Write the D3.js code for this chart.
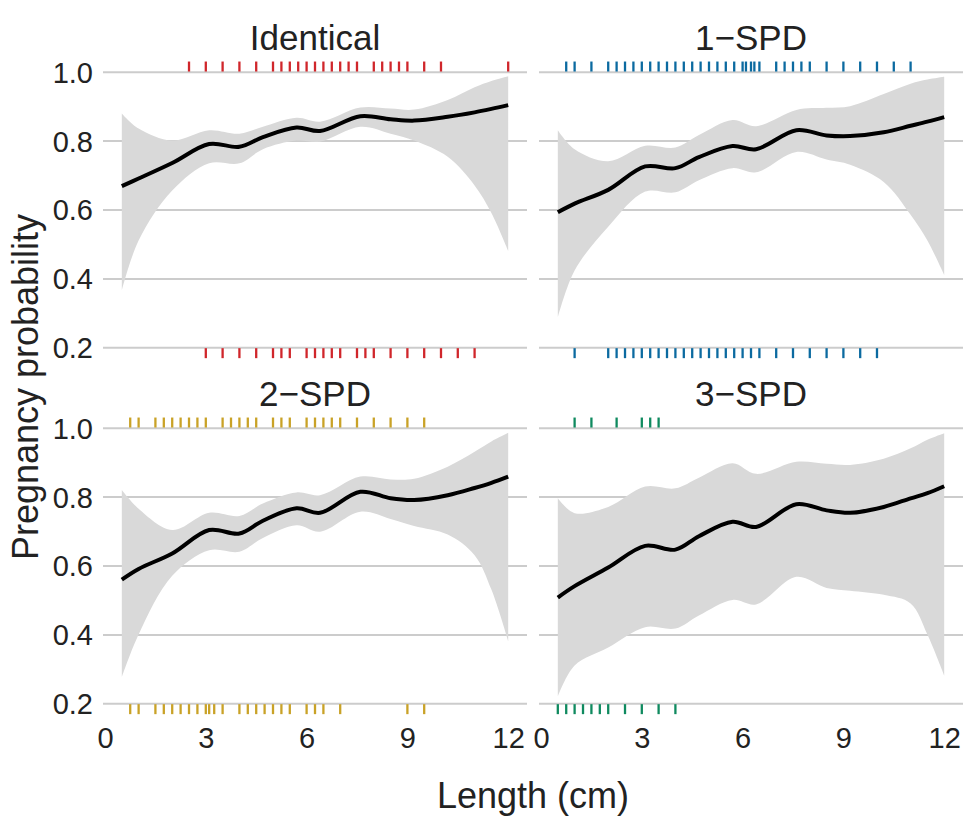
<!DOCTYPE html>
<html>
<head>
<meta charset="utf-8">
<script src="https://cdn.jsdelivr.net/npm/d3@7"></script>
<style>
  body { margin: 0; background: #fff; }
  svg text { font-family: "Liberation Sans", Arial, sans-serif; fill: #222; }
</style>
</head>
<body>
<script>
// panels
let groups = ["Identical", "1\u2212SPD", "2\u2212SPD", "3\u2212SPD"];
let colors = ["#d0262b", "#0b6aa0", "#c9a227", "#0f8a5f"];

// smooth fit, shared x grid (cm)
let xGrid = [0.5, 1, 2, 3.1, 4, 4.7, 5.7, 6.4, 7.6, 8.5, 9.2, 10.2, 11, 11.5, 12];

let fitIdentical = [0.668, 0.69, 0.735, 0.79, 0.782, 0.81, 0.838, 0.828, 0.871, 0.862, 0.858, 0.869, 0.882, 0.892, 0.903];
let hiIdentical  = [0.879, 0.835, 0.80, 0.83, 0.82, 0.84, 0.866, 0.855, 0.896, 0.893, 0.89, 0.918, 0.955, 0.973, 0.987];
let loIdentical  = [0.365, 0.51, 0.655, 0.734, 0.734, 0.775, 0.80, 0.797, 0.84, 0.82, 0.80, 0.753, 0.67, 0.59, 0.48];

let fit1 = [0.592, 0.617, 0.657, 0.725, 0.72, 0.752, 0.784, 0.775, 0.83, 0.815, 0.813, 0.824, 0.843, 0.855, 0.868];
let hi1  = [0.83, 0.775, 0.74, 0.785, 0.78, 0.816, 0.86, 0.842, 0.889, 0.895, 0.90, 0.935, 0.965, 0.977, 0.985];
let lo1  = [0.287, 0.423, 0.55, 0.652, 0.65, 0.685, 0.72, 0.708, 0.767, 0.745, 0.73, 0.68, 0.585, 0.51, 0.41];

let fit2 = [0.559, 0.59, 0.635, 0.703, 0.693, 0.73, 0.766, 0.753, 0.814, 0.795, 0.79, 0.804, 0.825, 0.84, 0.858];
let hi2  = [0.819, 0.765, 0.703, 0.753, 0.744, 0.78, 0.812, 0.804, 0.858, 0.85, 0.852, 0.887, 0.93, 0.96, 0.985];
let lo2  = [0.276, 0.40, 0.57, 0.644, 0.64, 0.68, 0.717, 0.698, 0.756, 0.735, 0.715, 0.69, 0.63, 0.53, 0.38];

let fit3 = [0.507, 0.54, 0.594, 0.657, 0.646, 0.685, 0.727, 0.712, 0.778, 0.76, 0.753, 0.77, 0.795, 0.81, 0.83];
let hi3  = [0.795, 0.752, 0.77, 0.829, 0.824, 0.855, 0.897, 0.866, 0.901, 0.895, 0.892, 0.91, 0.94, 0.965, 0.984];
let lo3  = [0.22, 0.31, 0.362, 0.421, 0.417, 0.455, 0.50, 0.487, 0.567, 0.535, 0.527, 0.515, 0.49, 0.40, 0.281];

// observed lengths: pregnant (top rug) / not pregnant (bottom rug)
let rugTopIdentical = [2.5, 3, 3.5, 4, 4.5, 5, 5.25, 5.5, 5.75, 6, 6.25, 6.5, 6.75, 7, 7.25, 7.5, 8, 8.25, 8.5, 8.75, 9, 9.5, 10, 12];
let rugBotIdentical = [3, 3.5, 4, 4.5, 5, 5.25, 5.5, 6, 6.25, 6.5, 6.75, 7, 7.5, 7.75, 8, 8.5, 9, 9.5, 10, 10.5, 11];
let rugTop1 = [0.75, 1, 1.5, 2, 2.25, 2.5, 2.75, 3, 3.25, 3.5, 3.75, 4, 4.25, 4.5, 4.75, 5, 5.25, 5.5, 5.75, 6, 6.1, 6.25, 6.35, 6.5, 7, 7.25, 7.5, 7.75, 8, 8.5, 9, 9.5, 10, 10.5, 11];
let rugBot1 = [1, 2, 2.25, 2.5, 2.75, 3, 3.25, 3.5, 3.75, 4, 4.25, 4.5, 4.75, 5, 5.25, 5.5, 5.75, 6, 6.25, 6.5, 7, 7.5, 8, 8.5, 9, 9.5, 10];
let rugTop2 = [0.75, 1, 1.5, 1.75, 2, 2.25, 2.5, 2.75, 3, 3.5, 3.75, 4, 4.25, 4.5, 5, 5.25, 5.5, 6, 6.25, 6.5, 6.75, 7, 7.5, 8, 8.5, 9, 9.5];
let rugBot2 = [0.75, 1, 1.5, 1.75, 2, 2.25, 2.5, 2.75, 3, 3.1, 3.25, 3.5, 4, 4.25, 4.5, 4.75, 5, 5.25, 5.5, 6, 6.25, 6.5, 7, 9, 9.5];
let rugTop3 = [1, 1.5, 2.25, 3, 3.25, 3.5];
let rugBot3 = [0.5, 0.75, 1, 1.25, 1.5, 1.75, 2, 2.5, 3, 3.5, 4];

let fits = [fitIdentical, fit1, fit2, fit3];
let his = [hiIdentical, hi1, hi2, hi3];
let los = [loIdentical, lo1, lo2, lo3];
let rugTops = [rugTopIdentical, rugTop1, rugTop2, rugTop3];
let rugBots = [rugBotIdentical, rugBot1, rugBot2, rugBot3];

let yTicks = [0.2, 0.4, 0.6, 0.8, 1.0];
let xTicks = [0, 3, 6, 9, 12];
let rugTopY = 1.015;
let rugBotY = 0.183;

let w = 975, h = 825;
let panelW = 424;
let panelLeft = [103, 539];
let panelTop = [71.7, 427.7];

let x = d3.scaleLinear().domain([-0.06, 12.56]).range([0, panelW]);
let y = d3.scaleLinear().domain([0.2, 1.0]).range([275.6, 0]);

let svg = d3.select("body").append("svg")
  .attr("width", w)
  .attr("height", h);

let area = d3.area()
  .x(d => x(d[0]))
  .y0(d => y(d[1]))
  .y1(d => y(d[2]))
  .curve(d3.curveCatmullRom.alpha(0.5));
let line = d3.line()
  .x(d => x(d[0]))
  .y(d => y(d[1]))
  .curve(d3.curveCatmullRom.alpha(0.5));

groups.forEach(function(name, i) {
  let col = i % 2, row = Math.floor(i / 2);
  let g = svg.append("g")
    .attr("transform", "translate(" + panelLeft[col] + "," + panelTop[row] + ")");

  // horizontal grid
  let grid = g.append("g")
    .call(d3.axisLeft(y).tickValues(yTicks).tickSize(-panelW).tickFormat(""));
  grid.select(".domain").remove();
  grid.selectAll("line").attr("stroke", "#cccccc").attr("stroke-width", 2);

  if (col == 0) {
    let ya = g.append("g")
      .call(d3.axisLeft(y).tickValues(yTicks).tickSize(0).tickPadding(10).tickFormat(d3.format(".1f")));
    ya.select(".domain").remove();
    ya.selectAll("text").style("font-size", "29px").attr("fill", "#222").attr("dy", "0.36em");
  }
  if (row == 1) {
    let xa = g.append("g")
      .attr("transform", "translate(0," + y(0.2) + ")")
      .call(d3.axisBottom(x).tickValues(xTicks).tickSize(0).tickPadding(24.5));
    xa.select(".domain").remove();
    xa.selectAll("text").style("font-size", "29px").attr("fill", "#222");
  }

  let pts = xGrid.map((v, k) => [v, los[i][k], his[i][k]]);
  g.append("path")
    .attr("d", area(pts))
    .attr("fill", "#d9d9d9");
  g.append("path")
    .attr("d", line(xGrid.map((v, k) => [v, fits[i][k]])))
    .attr("fill", "none")
    .attr("stroke", "#000")
    .attr("stroke-width", 4);

  g.selectAll(".rugtop")
    .data(rugTops[i])
    .enter().append("line")
    .attr("x1", d => x(d)).attr("x2", d => x(d))
    .attr("y1", y(rugTopY) - 5).attr("y2", y(rugTopY) + 5)
    .attr("stroke", colors[i]).attr("stroke-width", 2.3);
  g.selectAll(".rugbot")
    .data(rugBots[i])
    .enter().append("line")
    .attr("x1", d => x(d)).attr("x2", d => x(d))
    .attr("y1", y(rugBotY) - 5).attr("y2", y(rugBotY) + 5)
    .attr("stroke", colors[i]).attr("stroke-width", 2.3);

  g.append("text")
    .attr("x", panelW / 2)
    .attr("y", -22)
    .attr("text-anchor", "middle")
    .style("font-size", "35px")
    .text(name);
});

svg.append("text")
  .attr("x", (panelLeft[0] + panelLeft[1] + panelW) / 2)
  .attr("y", 808)
  .attr("text-anchor", "middle")
  .style("font-size", "36px")
  .text("Length (cm)");

svg.append("text")
  .attr("transform", "translate(38,387) rotate(-90)")
  .attr("text-anchor", "middle")
  .style("font-size", "36px")
  .text("Pregnancy probability");
</script>
</body>
</html>
